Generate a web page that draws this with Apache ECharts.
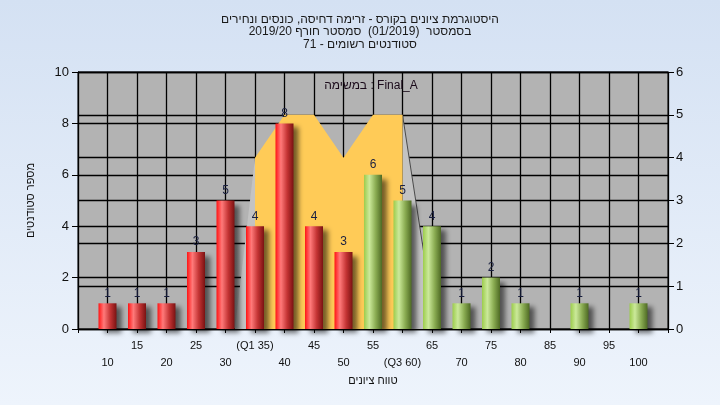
<!DOCTYPE html>
<html><head><meta charset="utf-8">
<script src="https://cdn.jsdelivr.net/npm/echarts@6/dist/echarts.min.js"></script>
<style>html,body{margin:0;padding:0;}#c{width:720px;height:405px;}</style>
</head><body><div id="c"></div>
<script>
// ---- data ----
const titleLines = [
  'היסטוגרמת ציונים בקורס - זרימה דחיסה, כונסים ונחירים',
  'בסמסטר  (01/2019)  סמסטר חורף 2019/20',
  'סטודנטים רשומים - 71'
];
const noteText = 'במשימה : Final_A';
const xAxisName = 'טווח ציונים';
const yAxisName = 'מספר סטודנטים';
const bins   = [10,15,20,25,30,35,40,45,50,55,60,65,70,75,80,85,90,95,100];
const counts = [1, 1, 1, 3, 5, 4, 8, 4, 3, 6, 5, 4, 1, 2, 1, 0, 1, 0, 1];
const passFrom = 55;
const q1 = 35, q3 = 60;
const bandX = [35,40,45,50,55,60];      // right axis
const bandY = [4, 5, 5, 4, 5, 5];
const leftShade  = [[31.6,0],[35,4]];
const rightShade = [[60,5],[65.6,0]];

// ---- chart ----
const FONT = 'Liberation Sans, Arial, sans-serif';
const redGrad = new echarts.graphic.LinearGradient(0,0,1,0,[
  {offset:0,color:'#ff1414'},{offset:0.3,color:'#ff7a7a'},{offset:0.65,color:'#c43434'},{offset:1,color:'#7a1212'}]);
const greenGrad = new echarts.graphic.LinearGradient(0,0,1,0,[
  {offset:0,color:'#9ccc4c'},{offset:0.3,color:'#cbe99a'},{offset:0.65,color:'#8aac52'},{offset:1,color:'#4e6a24'}]);

const barData = [];
bins.forEach((b,i)=>{
  if (counts[i] > 0) barData.push({value:[b,counts[i]], itemStyle:{color: b >= passFrom ? greenGrad : redGrad}});
});

const chart = echarts.init(document.getElementById('c'), null, {renderer:'canvas'});
chart.setOption({
  animation:false,
  backgroundColor: new echarts.graphic.LinearGradient(0,0,0,1,[{offset:0,color:'#d4e1f3'},{offset:1,color:'#eef4fc'}]),
  title:{text: titleLines.join('\n'), left:'center', top:8,
    textStyle:{fontFamily:FONT,fontSize:12,fontWeight:'normal',color:'#1a1a1a',lineHeight:12.5}},
  graphic:[{type:'text', z:100, style:{text:noteText, x:371, y:86, align:'center', verticalAlign:'middle',
    fontFamily:FONT, fontSize:12, fill:'#1a0a1a'}}],
  grid:{left:78, right:52, top:72, bottom:76, show:true, backgroundColor:'#b3b3b3', borderColor:'#000', borderWidth:1},
  xAxis:{type:'value', min:5, max:105, interval:5,
    name:xAxisName, nameLocation:'middle', nameGap:45,
    nameTextStyle:{fontFamily:FONT,fontSize:11,color:'#111'},
    axisLine:{show:true,lineStyle:{color:'#000',width:1}},
    axisTick:{show:true,length:4,lineStyle:{color:'#000'}},
    splitLine:{show:true,lineStyle:{color:'#000',width:1.3}},
    axisLabel:{fontFamily:FONT,fontSize:11,color:'#111',lineHeight:17,margin:8,
      formatter:v=>{
        if (v===5||v===105) return '';
        let s = v===q1 ? '(Q1 '+v+')' : v===q3 ? '(Q3 '+v+')' : String(v);
        return (v%10===0) ? '\n'+s : s;
      }}},
  yAxis:[
    {type:'value', min:0, max:10, interval:2, position:'left',
      name:yAxisName, nameLocation:'middle', nameGap:42, nameRotate:90,
      nameTextStyle:{fontFamily:FONT,fontSize:11,color:'#111'},
      axisLine:{show:true,lineStyle:{color:'#000'}}, axisTick:{show:true,length:6,lineStyle:{color:'#000'}},
      splitLine:{show:true,lineStyle:{color:'#000',width:1.3}},
      axisLabel:{fontFamily:FONT,fontSize:13,color:'#111',margin:9}},
    {type:'value', min:0, max:6, interval:1, position:'right',
      axisLine:{show:true,lineStyle:{color:'#000'}}, axisTick:{show:true,length:6,lineStyle:{color:'#000'}},
      splitLine:{show:true,lineStyle:{color:'#000',width:1.3}},
      axisLabel:{fontFamily:FONT,fontSize:13,color:'#111',margin:8}}
  ],
  series:[
    {type:'line', yAxisIndex:1, data:leftShade, symbol:'none', z:1,
      lineStyle:{width:0}, areaStyle:{color:'#c3c3c3',opacity:1}},
    {type:'line', yAxisIndex:1, data:rightShade, symbol:'none', z:1,
      lineStyle:{width:1,color:'#4a4a4a'}, areaStyle:{color:'#c3c3c3',opacity:1}},
    {type:'line', yAxisIndex:1, data:bandX.map((x,i)=>[x,bandY[i]]), symbol:'none', z:2,
      lineStyle:{width:0}, areaStyle:{color:'#ffcb57',opacity:1}},
    {type:'bar', yAxisIndex:0, data:barData, barWidth:18, z:3,
      itemStyle:{shadowColor:'rgba(0,0,0,0.55)',shadowBlur:5,shadowOffsetX:5,shadowOffsetY:4},
      label:{show:true, position:'top', distance:4, fontFamily:FONT, fontSize:12, color:'#1a2040',
        formatter:p=>p.value[1]}}
  ]
});
</script></body></html>
